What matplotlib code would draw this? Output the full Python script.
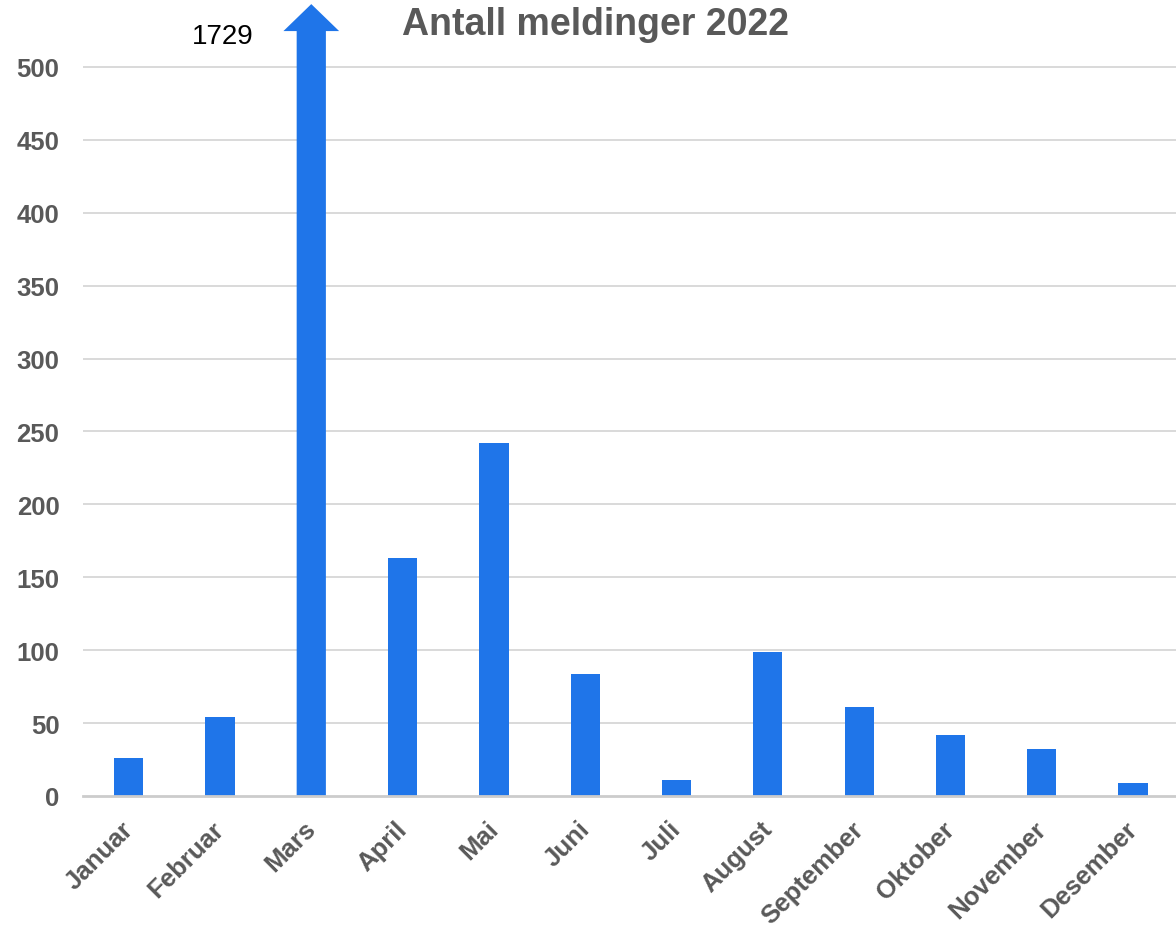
import numpy as np
import matplotlib
matplotlib.use("Agg")
import matplotlib.pyplot as plt
import matplotlib.transforms as mtransforms
from matplotlib.patches import FancyArrow

months = ["Januar", "Februar", "Mars", "April", "Mai", "Juni", "Juli",
          "August", "September", "Oktober", "November", "Desember"]
counts = [26, 54, 1729, 163, 242, 84, 11, 99, 61, 42, 32, 9]
yticks = [0, 50, 100, 150, 200, 250, 300, 350, 400, 450, 500]

blue = "#1f75e9"
grey = "#595959"
plt.rcParams["font.family"] = ["Liberation Sans", "DejaVu Sans"]

fig = plt.figure(figsize=(11.76, 9.28), dpi=100)
ax = fig.add_axes([83 / 1176, 131 / 928, 1 - 83 / 1176, 797 / 928])

ymax = 546.6
x = np.arange(len(months))
# bars that fit in the axis
normal = [c if c <= 500 else 0 for c in counts]
ax.bar(x, normal, width=0.32, color=blue, zorder=3)

# the outlier is drawn as an arrow leaving the top of the chart
for i, c in enumerate(counts):
    if c > 500:
        ax.add_patch(FancyArrow(i, 0, 0, ymax - 3.5, width=0.32, head_width=0.61,
                                head_length=18.5, length_includes_head=True,
                                color=blue, zorder=3, linewidth=0))
        ax.text(i - 0.97, ymax - 25.5, str(c), ha="center", va="center",
                fontsize=20, color="black")

ax.set_xlim(-0.5, 11.47)
ax.set_ylim(0, ymax)
ax.set_yticks(yticks)
ax.set_yticklabels([str(v) for v in yticks])
ax.set_xticks(x)
ax.set_xticklabels(months, rotation=45, ha="right", va="top", rotation_mode="anchor")
for s in ax.spines.values():
    s.set_visible(False)
ax.tick_params(length=0)
ax.tick_params(axis="y", pad=17, labelsize=18.5, labelcolor=grey)
ax.tick_params(axis="x", pad=14, labelsize=18.5, labelcolor=grey)
shift = mtransforms.ScaledTranslation(-8 / 100, -1 / 100, fig.dpi_scale_trans)
for lbl in ax.get_xticklabels():
    lbl.set_transform(lbl.get_transform() + shift)
for lbl in ax.get_xticklabels() + ax.get_yticklabels():
    lbl.set_fontweight("bold")
for v in yticks[1:]:
    ax.axhline(v, color="#d9d9d9", linewidth=1.4, zorder=1)
ax.axhline(0, color="#cccccc", linewidth=2, zorder=4, clip_on=False)

fig.text(596 / 1176, 1 - 25 / 928, "Antall meldinger 2022", ha="center", va="center",
         fontsize=27, fontweight="bold", color=grey)

fig.savefig("out.png", dpi=100)
